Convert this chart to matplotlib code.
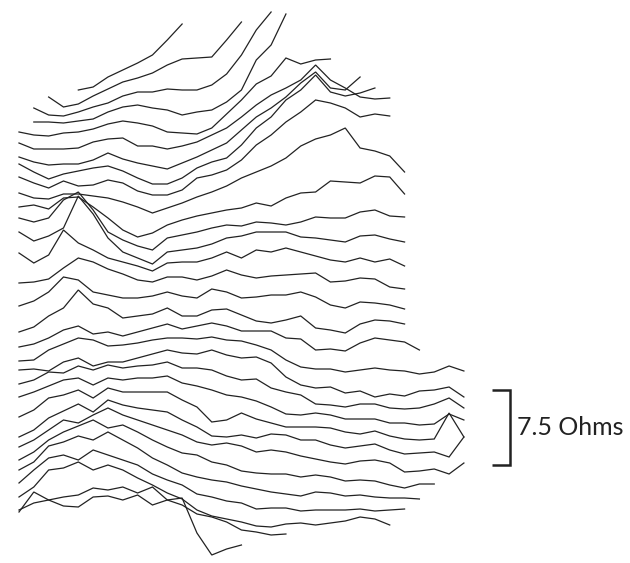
import matplotlib.pyplot as plt
import numpy as np

# stacked impedance traces (Ohm), one per channel, sampled every 2nd frequency step
ch01 = [47.5, 47.8, 48.8, 49.5, 50.2, 51.0, 52.5, 54.1]
ch02 = [46.8, 45.8, 46.1, 46.9, 47.6, 48.3, 48.7, 49.2, 50.0, 50.6, 50.7, 50.8, 52.5, 54.3]
ch03 = [45.7, 45.0, 44.9, 45.3, 45.8, 46.2, 46.9, 47.3, 47.3, 47.6, 47.5, 47.5, 48.0, 49.1, 51.0, 53.5, 55.3]
ch04 = [44.3, 44.3, 44.2, 44.4, 44.6, 45.3, 45.8, 46.0, 45.7, 45.5, 45.0, 45.3, 45.5, 46.3, 47.5, 50.5, 52.0, 55.1]
ch05 = [43.3, 43.0, 42.9, 43.2, 43.3, 43.6, 44.1, 44.4, 44.2, 43.9, 43.3, 43.2, 43.1, 43.7, 45.1, 46.5,
        48.1, 48.9, 50.7, 50.1, 50.5, 50.6]
ch06 = [42.2, 41.6, 41.6, 41.6, 41.7, 42.3, 42.6, 42.7, 41.9, 41.9, 41.6, 41.9, 42.3, 43.0, 43.7, 44.8,
        46.0, 47.0, 47.7, 48.5, 50.0, 48.5, 47.7, 46.8, 46.6, 46.7]
ch07 = [40.8, 40.3, 40.0, 40.1, 40.1, 40.5, 41.2, 40.6, 40.2, 39.9, 39.6, 40.2, 40.8, 41.5, 42.2, 43.5,
        44.8, 45.7, 46.8, 48.2, 49.3, 47.7, 47.5, 48.8]
ch08 = [40.1, 39.3, 38.6, 39.1, 39.4, 39.7, 39.9, 39.4, 38.7, 38.1, 38.1, 38.7, 39.7, 40.3, 40.7, 42.0,
        43.7, 44.8, 46.5, 47.5, 49.0, 47.3, 46.9, 47.2, 47.7]
ch09 = [38.8, 38.2, 37.7, 38.4, 37.9, 38.0, 38.5, 38.2, 37.4, 37.0, 37.0, 37.5, 38.7, 39.0, 39.5, 40.5,
        42.0, 43.0, 44.3, 45.3, 46.5, 46.2, 45.7, 44.8, 45.1, 44.9]
ch10 = [37.2, 36.7, 36.6, 37.1, 37.1, 36.9, 36.7, 36.3, 35.8, 35.2, 35.7, 36.2, 36.8, 37.3, 37.9, 38.7,
        39.3, 39.9, 40.7, 41.9, 42.6, 43.0, 43.7, 41.7, 41.4, 40.9, 39.3]
ch11 = [35.8, 36.0, 35.6, 36.7, 36.8, 35.8, 34.7, 33.5, 32.8, 33.2, 34.0, 34.5, 34.9, 35.2, 35.5, 35.7,
        36.2, 35.9, 36.7, 37.2, 37.3, 38.4, 38.3, 38.2, 38.9, 38.8, 37.1]
ch12 = [34.7, 34.3, 34.7, 36.5, 37.3, 35.5, 33.3, 32.5, 31.9, 31.5, 32.7, 33.0, 33.3, 33.7, 34.0, 33.9,
        34.3, 34.2, 34.0, 34.3, 34.8, 34.7, 34.7, 35.3, 35.5, 34.9, 34.8]
ch13 = [33.3, 32.4, 32.9, 33.7, 36.9, 35.1, 32.7, 31.3, 30.7, 30.1, 31.3, 31.5, 31.7, 32.1, 32.7, 32.9,
        33.3, 33.3, 33.3, 32.8, 32.7, 32.5, 32.3, 32.9, 33.0, 32.6, 32.3]
ch14 = [31.2, 30.2, 31.0, 33.5, 32.2, 31.5, 30.7, 30.3, 29.9, 29.4, 30.2, 30.3, 30.3, 30.7, 31.3, 30.7,
        31.5, 31.3, 31.7, 31.3, 30.9, 30.5, 30.3, 30.7, 30.3, 30.6, 29.9]
ch15 = [28.2, 28.3, 28.6, 29.7, 30.7, 30.3, 29.6, 29.1, 28.5, 28.3, 28.8, 28.8, 28.5, 28.9, 29.5, 29.0,
        28.7, 28.9, 29.0, 29.1, 29.2, 28.3, 28.4, 28.7, 28.6, 27.8, 27.6]
ch16 = [25.9, 26.4, 27.3, 28.8, 28.5, 27.3, 27.0, 26.7, 26.7, 26.9, 27.3, 26.9, 26.7, 27.6, 27.3, 26.7,
        26.8, 27.0, 27.0, 27.3, 26.8, 26.0, 25.7, 26.3, 26.2, 26.0, 25.6]
ch17 = [23.3, 23.8, 24.9, 25.7, 27.5, 26.1, 25.7, 24.7, 24.9, 25.1, 25.7, 24.9, 24.9, 25.5, 25.6, 25.0,
        24.4, 24.2, 24.5, 24.9, 23.7, 23.5, 23.2, 24.1, 24.5, 24.4, 24.1]
ch18 = [21.8, 22.1, 22.7, 23.5, 23.9, 23.1, 23.3, 22.9, 23.3, 23.7, 24.1, 23.6, 23.9, 24.2, 23.9, 23.4,
        23.4, 23.4, 22.7, 22.6, 21.5, 21.6, 21.4, 22.2, 22.7, 22.5, 22.3, 21.5]
ch19 = [20.4, 20.5, 21.5, 22.1, 22.7, 22.5, 21.9, 22.0, 22.2, 22.5, 22.7, 22.7, 22.6, 22.8, 22.5, 22.4,
        22.0, 21.5, 20.5, 19.8, 19.6, 19.6, 19.3, 19.5, 19.7, 19.5, 19.4, 19.1, 19.3, 19.9, 19.4]
ch20 = [19.5, 19.6, 19.4, 20.3, 20.7, 19.9, 20.3, 20.3, 20.7, 21.1, 21.5, 21.2, 21.1, 21.5, 21.0, 20.7,
        20.8, 20.2, 18.8, 18.0, 17.7, 17.8, 17.2, 17.4, 16.8, 17.1, 16.9, 17.4, 17.5, 17.8, 16.8]
ch21 = [18.1, 18.5, 19.3, 19.2, 19.9, 19.5, 20.0, 19.7, 19.9, 20.0, 20.3, 19.7, 19.7, 19.5, 18.9, 18.5,
        18.6, 17.7, 17.3, 17.0, 16.1, 16.0, 15.8, 16.1, 16.1, 15.7, 15.6, 15.7, 16.1, 16.7, 15.7]
ch22 = [16.8, 17.3, 17.9, 18.5, 18.7, 18.0, 18.7, 18.5, 18.7, 18.7, 18.9, 18.2, 17.9, 17.5, 17.0, 16.8,
        16.4, 15.8, 15.1, 15.0, 15.2, 15.0, 14.6, 14.6, 14.6, 14.2, 14.2, 14.0, 14.1, 15.1, 14.5]
ch23 = [14.8, 15.5, 16.7, 17.0, 17.5, 16.7, 17.7, 17.3, 17.3, 17.3, 17.3, 16.5, 15.8, 14.3, 14.5, 15.2,
        14.6, 14.2, 13.8, 13.8, 13.8, 13.7, 13.3, 13.1, 13.4, 12.9, 12.6, 12.5, 12.6, 15.2, 12.8]
ch24 = [12.8, 13.5, 14.7, 15.4, 16.1, 15.3, 16.5, 16.0, 15.7, 15.5, 15.3, 14.5, 13.8, 12.9, 12.8, 13.0,
        12.7, 13.1, 13.0, 12.5, 12.5, 12.0, 11.7, 11.9, 12.1, 11.5, 11.1, 11.2, 11.3, 10.8, 12.8]
ch25 = [11.8, 12.5, 13.5, 14.5, 14.2, 15.0, 15.7, 15.0, 14.5, 14.0, 13.5, 13.0, 12.3, 12.0, 12.2, 11.9,
        11.3, 11.5, 11.3, 10.9, 10.6, 10.3, 10.1, 10.4, 10.5, 10.2, 9.3, 9.4, 9.6, 9.1, 10.2]
ch26 = [10.5, 11.3, 12.5, 13.3, 13.9, 14.5, 13.7, 14.0, 13.3, 12.5, 11.8, 11.2, 11.0, 10.3, 10.0, 9.4,
        9.2, 9.1, 9.1, 8.8, 9.0, 8.8, 8.4, 8.5, 8.4, 8.0, 7.7, 8.1, 8.1]
ch27 = [9.5, 10.3, 11.9, 12.3, 12.9, 12.5, 13.3, 12.5, 11.7, 10.7, 10.0, 9.2, 8.8, 8.5, 8.3, 7.9,
        7.6, 7.3, 7.1, 6.9, 7.3, 7.2, 6.9, 7.0, 6.8, 6.7, 6.7, 6.6]
ch28 = [8.2, 9.5, 10.7, 11.0, 10.5, 11.5, 11.0, 10.5, 10.0, 9.1, 8.5, 8.0, 7.1, 6.8, 6.4, 6.2,
        5.6, 5.7, 5.7, 5.4, 5.5, 5.5, 5.5, 5.6, 5.4, 5.5, 5.6]
ch29 = [6.8, 7.8, 9.5, 9.7, 10.3, 9.5, 10.0, 9.5, 8.7, 8.0, 7.2, 6.6, 5.5, 4.9, 4.6, 4.3,
        3.9, 3.8, 4.1, 4.2, 4.0, 4.2, 4.4, 4.8, 4.6, 4.0]
ch30 = [5.5, 6.2, 6.5, 6.8, 7.0, 7.7, 7.5, 7.8, 7.2, 7.8, 6.5, 6.0, 5.1, 4.8, 4.3, 3.5, 3.3, 3.0, 3.1]
ch31 = [5.3, 7.3, 6.5, 5.9, 5.8, 6.8, 6.9, 6.5, 7.0, 6.0, 6.5, 6.7, 3.2, 1.0, 1.6, 2.0]

# frequency step at which each channel's trace begins
first_step = [8, 4, 2, 2] + [0] * 27

channels = [ch01, ch02, ch03, ch04, ch05, ch06, ch07, ch08, ch09, ch10, ch11, ch12, ch13, ch14, ch15, ch16,
            ch17, ch18, ch19, ch20, ch21, ch22, ch23, ch24, ch25, ch26, ch27, ch28, ch29, ch30, ch31]

scale_ohms = 7.5
scale_base = 10.0

fig = plt.figure(figsize=(6.3, 5.63), dpi=100)
ax = fig.add_axes([0, 0, 1, 1])

for start, vals in zip(first_step, channels):
    x = start + 2 * np.arange(len(vals))
    ax.plot(x, vals, color='#222222', lw=0.9, solid_joinstyle='miter')

# scale bar
bx = 66.2
ax.plot([bx - 2.4, bx, bx, bx - 2.4],
        [scale_base + scale_ohms, scale_base + scale_ohms, scale_base, scale_base],
        color='#222222', lw=1.8, solid_joinstyle='miter', solid_capstyle='butt')
ax.text(bx + 0.9, scale_base + scale_ohms / 2, f'{scale_ohms} Ohms', fontsize=18,
        family='Lato', va='center', ha='left', color='#222222')

ax.set_xlim(-2.56, 82.4)
ax.set_ylim(0.2, 56.5)
ax.axis('off')

fig.savefig('out.png', dpi=100)
